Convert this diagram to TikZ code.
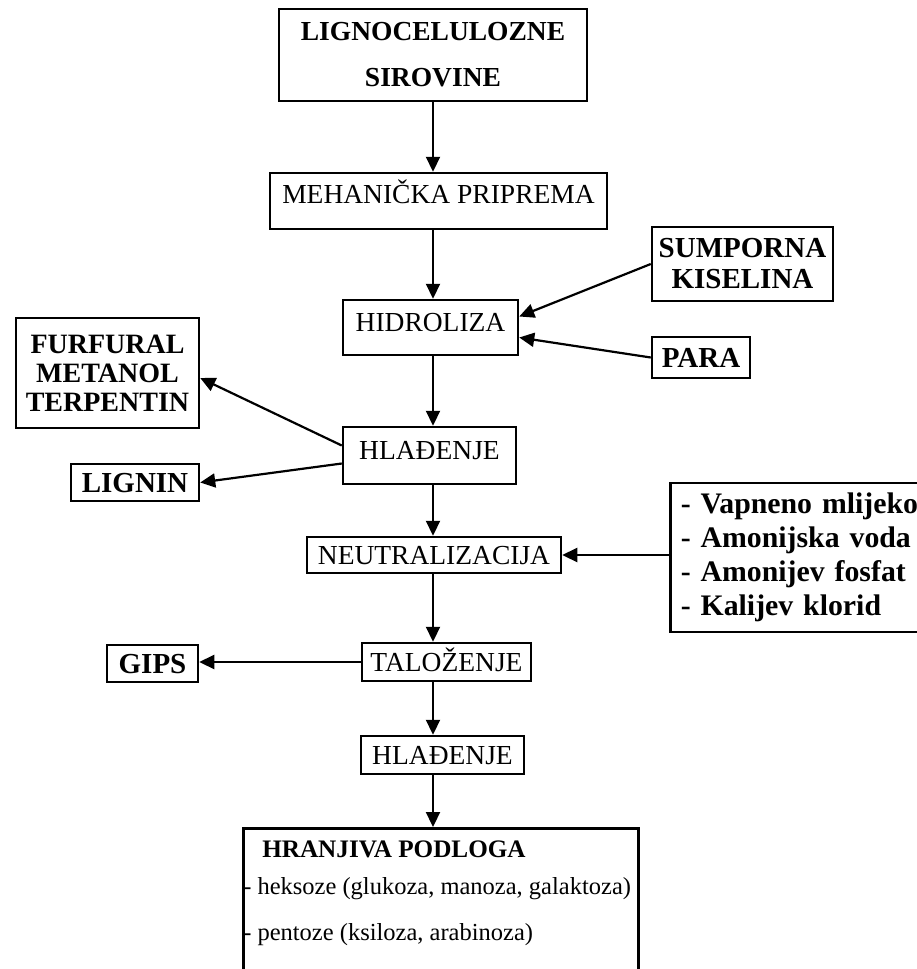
\documentclass[tikz,border=0pt]{standalone}
\usepackage{fontspec}
\setmainfont{Liberation Serif}
\usetikzlibrary{arrows.meta}

\tikzset{
  box/.style={draw, line width=2.5pt, inner sep=0pt,
    font=\fontsize{27.5}{33}\selectfont},
  oneline/.style={text height=18.2pt, text depth=0pt},
  sidebox/.style={box, font=\fontsize{29}{31}\selectfont\bfseries},
  arr/.style={line width=2.2pt, -{Triangle[length=15pt,width=14pt]}},
}

\begin{document}
\begin{tikzpicture}[x=1pt, y=-1pt]
  \fill[white] (0,0) rectangle (917,969);
  \useasboundingbox (0,0) rectangle (917,969);

  % main process chain
  \node[box, minimum width=308, minimum height=92, align=center,
        font=\fontsize{27.5}{46}\selectfont\bfseries] (top) at (433,55)
        {LIGNOCELULOZNE\\SIROVINE};
  \node[box, minimum width=337, minimum height=56,
        text height=20pt, text depth=15pt] (mech) at (438.5,201)
        {MEHANIČKA PRIPREMA};
  \node[box, minimum width=175, minimum height=55,
        text height=19pt, text depth=11.5pt] (hidro) at (430.5,327.5)
        {HIDROLIZA};
  \node[box, minimum width=173, minimum height=57,
        text height=19pt, text depth=11.5pt] (hlad1) at (429.5,455.5)
        {HLAĐENJE};
  \node[box, oneline, minimum width=254, minimum height=36] (neut) at (434,555)
        {NEUTRALIZACIJA};
  \node[box, oneline, minimum width=169, minimum height=38] (talo) at (446.5,662)
        {TALOŽENJE};
  \node[box, oneline, minimum width=163, minimum height=38] (hlad2) at (442.5,755)
        {HLAĐENJE};
  \node[box, anchor=north west, font=\fontsize{24.5}{37}\selectfont] (hran) at (242,827)
        {\parbox[t][190pt][t]{395pt}{\rule{0pt}{29.5pt}\hspace*{19pt}{\fontsize{25.2}{37}\selectfont\bfseries HRANJIVA PODLOGA}\\
         - heksoze (glukoza, manoza, galaktoza)\\[9pt]
         - pentoze (ksiloza, arabinoza)}};

  % inputs and by-products
  \node[sidebox, minimum width=181, minimum height=74, align=center] (sump) at (742.5,264)
        {SUMPORNA\\KISELINA};
  \node[sidebox, oneline, text height=19.2pt, minimum width=98, minimum height=41] (para) at (701,357.5)
        {PARA};
  \node[sidebox, minimum width=183, minimum height=110, align=center,
        font=\fontsize{28}{29}\selectfont\bfseries] (furf) at (107.5,373)
        {FURFURAL\\METANOL\\TERPENTIN};
  \node[sidebox, oneline, text height=19.2pt, minimum width=128, minimum height=37] (lignin) at (135,482.5)
        {LIGNIN};
  \node[sidebox, oneline, text height=19.2pt, minimum width=91, minimum height=37] (gips) at (152.5,663.5)
        {GIPS};
  \node[box, anchor=west, text width=250pt, inner xsep=10.5pt, minimum height=149,
        align=left, font=\fontsize{29.8}{34}\selectfont\bfseries] (list) at (669,557.5)
        {- Vapneno mlijeko\\- Amonijska voda\\- Amonijev fosfat\\- Kalijev klorid};

  % vertical flow
  \draw[arr] (top.south) -- (top.south |- mech.north);
  \draw[arr] (top.south |- mech.south) -- (top.south |- hidro.north);
  \draw[arr] (top.south |- hidro.south) -- (top.south |- hlad1.north);
  \draw[arr] (top.south |- hlad1.south) -- (top.south |- neut.north);
  \draw[arr] (top.south |- neut.south) -- (top.south |- talo.north);
  \draw[arr] (top.south |- talo.south) -- (top.south |- hlad2.north);
  \draw[arr] (top.south |- hlad2.south) -- (top.south |- hran.north);

  % side connections
  \draw[arr] (sump.west) -- ([yshift=11pt]hidro.east);
  \draw[arr] (para.west) -- ([yshift=-10pt]hidro.east);
  \draw[arr] ([yshift=10pt]hlad1.west) -- ([yshift=-5pt]furf.east);
  \draw[arr] ([yshift=-8pt]hlad1.west) -- (lignin.east);
  \draw[arr] (list.west |- neut.east) -- (neut.east);
  \draw[arr] (talo.west) -- (gips.east |- talo.west);
\end{tikzpicture}
\end{document}
